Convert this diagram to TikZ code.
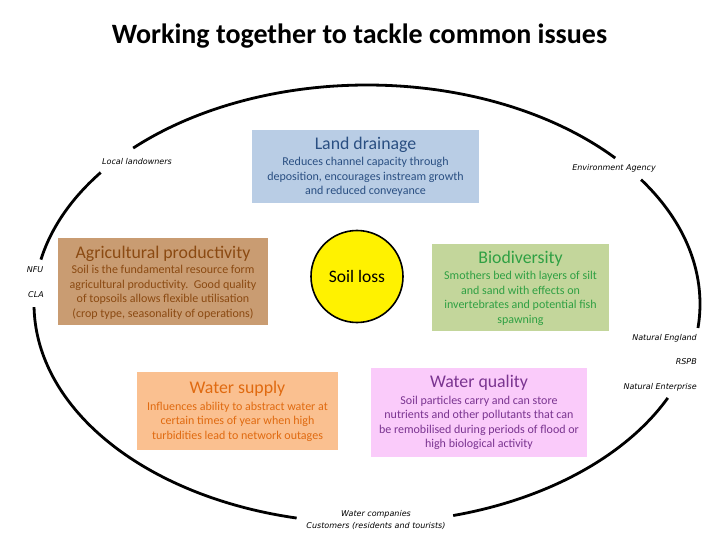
\documentclass[tikz,border=0pt]{standalone}
\usepackage{fontspec}
\setmainfont{Carlito}
\newfontfamily\lblfont{DejaVu Sans}
\definecolor{ldfill}{HTML}{B9CDE5}
\definecolor{ldtext}{HTML}{2A4F82}
\definecolor{agfill}{HTML}{C99C72}
\definecolor{agtext}{HTML}{8B4A12}
\definecolor{bifill}{HTML}{C3D69B}
\definecolor{bitext}{HTML}{2FA043}
\definecolor{wsfill}{HTML}{FAC090}
\definecolor{wstext}{HTML}{E06A10}
\definecolor{wqfill}{HTML}{FACBFA}
\definecolor{wqtext}{HTML}{7A3490}
\tikzset{
  box/.style={draw=none, inner sep=0pt},
  ttl/.style={inner sep=0pt, font=\fontsize{17.8}{20}\selectfont},
  body/.style={inner sep=0pt, align=center, font=\fontsize{12}{14.5}\selectfont},
  lbl/.style={inner sep=1pt, font=\lblfont\itshape\fontsize{8}{9}\selectfont},
  rim/.style={line width=2.8pt, black}
}
\begin{document}
\begin{tikzpicture}[x=1pt,y=-1pt]
\useasboundingbox (0,0) rectangle (720,540);
% title
\node[inner sep=0pt, font=\bfseries\fontsize{28}{32}\selectfont] (title) at (359.5,36) {Working together to tackle common issues};
% ellipse arcs
\def\cx{367}\def\cy{304}\def\rx{333}\def\ry{219}
\draw[rim] plot[domain=-6.3:34.6, samples=40, smooth] ({\cx+\rx*cos(\x)},{\cy-\ry*sin(\x)});
\draw[rim] plot[domain=41.8:134.6, samples=80, smooth] ({\cx+\rx*cos(\x)},{\cy-\ry*sin(\x)});
\draw[rim] plot[domain=143.1:168.3, samples=30, smooth] ({\cx+\rx*cos(\x)},{\cy-\ry*sin(\x)});
\draw[rim] plot[domain=180.8:257.8, samples=70, smooth] ({\cx+\rx*cos(\x)},{\cy-\ry*sin(\x)});
\draw[rim] plot[domain=285:334.6, samples=50, smooth] ({\cx+\rx*cos(\x)},{\cy-\ry*sin(\x)});
% labels on the rim
\node[lbl] (lo) at (137,162) {Local landowners};
\node[lbl] (ea) at (614,168) {Environment Agency};
\node[lbl] (nfu) at (35,270) {NFU};
\node[lbl] (cla) at (36,295) {CLA};
\node[lbl, anchor=east] (ne) at (698,338) {Natural England};
\node[lbl, anchor=east] (rspb) at (698,362) {RSPB};
\node[lbl, anchor=east] (nen) at (698,387) {Natural Enterprise};
\node[lbl] (wc) at (376,514) {Water companies};
\node[lbl] (cu) at (376,526) {Customers (residents and tourists)};
% Land drainage
\node[box, fill=ldfill, minimum width=227pt, minimum height=73pt] (ld) at (365.5,166.5) {};
\node[ttl, text=ldtext] (ldt) at (365.5,145) {Land drainage};
\node[body, text=ldtext] (ldb) at (365.5,177) {Reduces channel capacity through\\deposition, encourages instream growth\\and reduced conveyance};
% Agricultural productivity
\node[box, fill=agfill, minimum width=210pt, minimum height=87pt] (ag) at (163,281.5) {};
\node[ttl, text=agtext] (agt) at (163,254) {Agricultural productivity};
\node[body, text=agtext] (agb) at (163,292.5) {Soil is the fundamental resource form\\agricultural productivity.\ \ Good quality\\of topsoils allows flexible utilisation\\(crop type, seasonality of operations)};
% Soil loss
\node[circle, draw=black, line width=1.6pt, fill=yellow, minimum size=92pt, inner sep=0pt, font=\fontsize{17.5}{20}\selectfont] (sl) at (357,276.5) {Soil loss};
% Biodiversity
\node[box, fill=bifill, minimum width=177pt, minimum height=87pt] (bi) at (520.5,287.5) {};
\node[ttl, text=bitext] (bit) at (520.5,259) {Biodiversity};
\node[body, text=bitext] (bib) at (520.5,298.5) {Smothers bed with layers of silt\\and sand with effects on\\invertebrates and potential fish\\spawning};
% Water supply
\node[box, fill=wsfill, minimum width=201pt, minimum height=78pt] (ws) at (237.5,411) {};
\node[ttl, text=wstext] (wst) at (237.5,389) {Water supply};
\node[body, text=wstext] (wsb) at (237.5,421.5) {Influences ability to abstract water at\\certain times of year when high\\turbidities lead to network outages};
% Water quality
\node[box, fill=wqfill, minimum width=216pt, minimum height=89pt] (wq) at (479,412.5) {};
\node[ttl, text=wqtext] (wqt) at (479,383) {Water quality};
\node[body, text=wqtext] (wqb) at (479,423) {Soil particles carry and can store\\nutrients and other pollutants that can\\be remobilised during periods of flood or\\high biological activity};
\end{tikzpicture}
\end{document}
